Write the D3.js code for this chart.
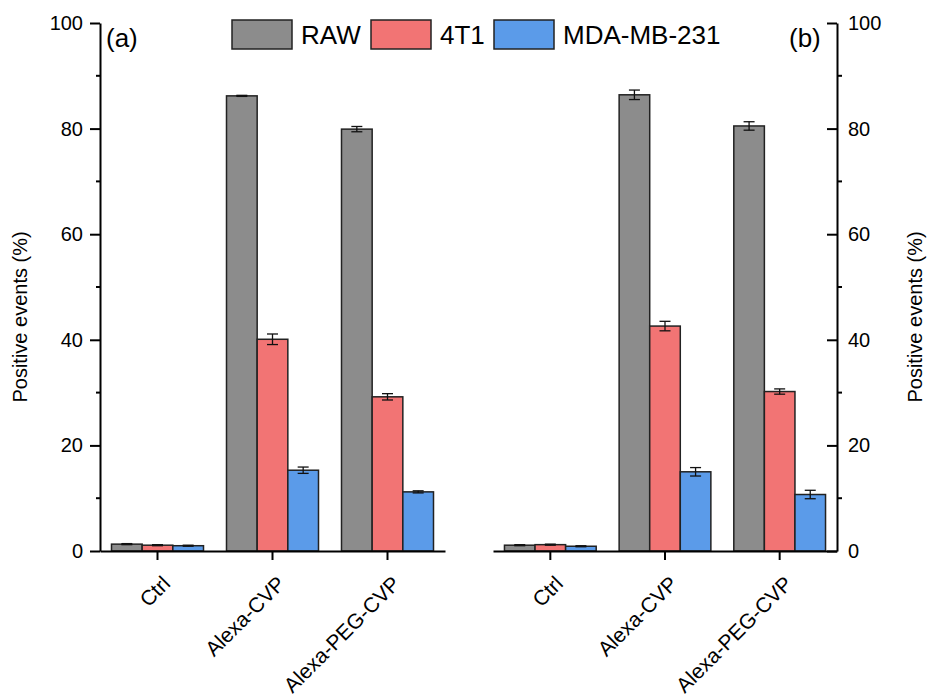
<!DOCTYPE html>
<html>
<head>
<meta charset="utf-8">
<style>
  body { margin: 0; background: #fff; }
  svg { font-family: "Liberation Sans", Arial, sans-serif; }
</style>
</head>
<body>
<svg id="chart" width="928" height="697"></svg>
<script src="https://d3js.org/d3.v7.min.js"></script>
<script>
// groups on the x axis
var categories = ["Ctrl", "Alexa-CVP", "Alexa-PEG-CVP"]
var seriesNames = ["RAW", "4T1", "MDA-MB-231"]
var seriesColors = ["#8c8c8c", "#f27474", "#5b9be9"]

// panel (a)
var rawA = [1.3, 86.2, 79.9]
var rawAErr = [0.1, 0.1, 0.5]
var t1A = [1.1, 40.1, 29.2]
var t1AErr = [0.1, 1.0, 0.6]
var mdaA = [1.0, 15.3, 11.2]
var mdaAErr = [0.1, 0.6, 0.2]

// panel (b)
var rawB = [1.1, 86.4, 80.5]
var rawBErr = [0.1, 0.9, 0.8]
var t1B = [1.2, 42.6, 30.2]
var t1BErr = [0.1, 0.9, 0.5]
var mdaB = [0.9, 15.0, 10.7]
var mdaBErr = [0.1, 0.8, 0.8]

var yTicks = [0, 20, 40, 60, 80, 100]
var yMinor = [10, 30, 50, 70, 90]

var svg = d3.select("#chart")
var y = d3.scaleLinear().domain([0, 100]).range([551, 23])

function drawPanel(vals, errs, x0, x1, side, tag, tagX) {
  var x = d3.scaleBand().domain(categories).range([x0, x1]).paddingInner(0.2).paddingOuter(0.1)
  var xs = d3.scaleBand().domain(seriesNames).range([0, x.bandwidth()])
  var g = svg.append("g")

  var rows = []
  categories.forEach(function(c, i) {
    seriesNames.forEach(function(s, j) {
      rows.push({cat: c, ser: s, v: vals[j][i], e: errs[j][i], color: seriesColors[j]})
    })
  })

  g.selectAll("rect.bar").data(rows).enter().append("rect")
    .attr("class", "bar")
    .attr("x", function(d) { return x(d.cat) + xs(d.ser) })
    .attr("width", xs.bandwidth())
    .attr("y", function(d) { return y(d.v) })
    .attr("height", function(d) { return y(0) - y(d.v) })
    .attr("fill", function(d) { return d.color })
    .attr("stroke", "#222")
    .attr("stroke-width", 1.5)

  // error bars
  var eb = g.selectAll("g.err").data(rows).enter().append("g")
    .attr("transform", function(d) { return "translate(" + (x(d.cat) + xs(d.ser) + xs.bandwidth() / 2) + ",0)" })
  eb.append("line").attr("y1", function(d) { return y(d.v - d.e) }).attr("y2", function(d) { return y(d.v + d.e) })
  eb.append("line").attr("x1", -5.5).attr("x2", 5.5).attr("y1", function(d) { return y(d.v + d.e) }).attr("y2", function(d) { return y(d.v + d.e) })
  eb.append("line").attr("x1", -5.5).attr("x2", 5.5).attr("y1", function(d) { return y(d.v - d.e) }).attr("y2", function(d) { return y(d.v - d.e) })
  eb.selectAll("line").attr("stroke", "#111").attr("stroke-width", 1.3)

  // x axis
  var xa = g.append("g").attr("transform", "translate(0," + y(0) + ")")
    .call(d3.axisBottom(x).tickSize(9).tickSizeOuter(0))
  xa.select(".domain").attr("stroke-width", 2)
  xa.selectAll(".tick line").attr("stroke-width", 2)
  xa.selectAll(".tick text")
    .attr("x", 0).attr("y", 0).attr("dy", 0)
    .attr("text-anchor", "end")
    .attr("transform", "translate(14,34) rotate(-45)")
    .attr("font-size", 21).attr("font-family", null).attr("fill", "#000")

  // y axis
  var ax, minorLen
  if (side == "left") {
    ax = d3.axisLeft(y).tickValues(yTicks).tickSize(10).tickPadding(7).tickSizeOuter(0)
    minorLen = 4
  } else {
    ax = d3.axisRight(y).tickValues(yTicks).tickSize(-10).tickPadding(11).tickSizeOuter(0)
    minorLen = -5
  }
  var ya = g.append("g").attr("transform", "translate(" + (side == "left" ? x0 : x1) + ",0)").call(ax)
  ya.select(".domain").attr("stroke-width", 2)
  ya.selectAll(".tick line").attr("stroke-width", 2)
  ya.selectAll(".tick text").attr("font-size", 20).attr("font-family", null).attr("fill", "#000")
  ya.selectAll("line.minor").data(yMinor).enter().append("line").attr("class", "minor")
    .attr("x1", 0).attr("x2", -minorLen)
    .attr("y1", function(d) { return y(d) }).attr("y2", function(d) { return y(d) })
    .attr("stroke", "#000").attr("stroke-width", 2)

  var tx = side == "left" ? 20 : 915
  svg.append("text")
    .attr("transform", "translate(" + (tx + 7) + ",317) rotate(-90)")
    .attr("text-anchor", "middle")
    .attr("font-size", 20)
    .text("Positive events (%)")

  svg.append("text").attr("x", tagX).attr("y", 47).attr("font-size", 26).text(tag)
}

drawPanel([rawA, t1A, mdaA], [rawAErr, t1AErr, mdaAErr], 100, 445, "left", "(a)", 106)
drawPanel([rawB, t1B, mdaB], [rawBErr, t1BErr, mdaBErr], 493, 837, "right", "(b)", 789)

// legend
var legendX = [232, 371, 494]
var leg = svg.selectAll("g.legend").data(seriesNames).enter().append("g")
  .attr("transform", function(d, i) { return "translate(" + legendX[i] + ",20)" })
leg.append("rect").attr("width", 60).attr("height", 29)
  .attr("fill", function(d, i) { return seriesColors[i] })
  .attr("stroke", "#222").attr("stroke-width", 1.5)
leg.append("text").attr("x", 69).attr("y", 24).attr("font-size", 26).text(function(d) { return d })
</script>
</body>
</html>
